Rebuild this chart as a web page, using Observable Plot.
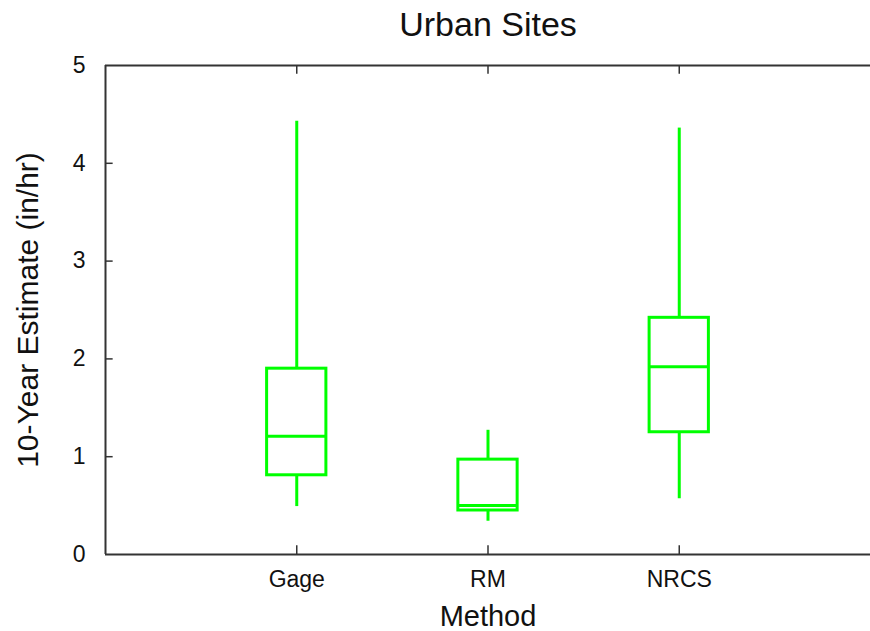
<!DOCTYPE html>
<html>
<head>
<meta charset="utf-8">
<script src="https://cdn.jsdelivr.net/npm/d3@7"></script>
<script src="https://cdn.jsdelivr.net/npm/@observablehq/plot@0.6"></script>
<style>
  html, body { margin: 0; padding: 0; background: #fff; }
  #chart svg { display: block; }
</style>
</head>
<body>
<div id="chart"></div>
<script>
const methods = ["Gage", "RM", "NRCS"];
const positions = [1, 2, 3];
const whiskerLow = [0.49, 0.34, 0.57];
const q1 = [0.81, 0.45, 1.25];
const median = [1.21, 0.50, 1.92];
const q3 = [1.90, 0.97, 2.42];
const whiskerHigh = [4.43, 1.27, 4.36];
const yTicks = [0, 1, 2, 3, 4, 5];

const halfW = 0.155;
const data = methods.map((m, i) => ({
  method: m, pos: positions[i],
  lo: whiskerLow[i], q1: q1[i], med: median[i], q3: q3[i], hi: whiskerHigh[i]
}));

const green = "#00ff00";
const axisColor = "#333";
const textColor = "#111";
const font = "'Liberation Sans', Arial, sans-serif";

const chart = Plot.plot({
  width: 870,
  height: 631,
  marginLeft: 105,
  marginRight: 0,
  marginTop: 65,
  marginBottom: 77,
  style: { fontFamily: font, background: "#fff" },
  x: { type: "linear", domain: [0, 4], axis: null },
  y: { type: "linear", domain: [0, 5], axis: null },
  marks: [
    // frame lines
    Plot.ruleY([0, 5], { stroke: axisColor, strokeWidth: 2 }),
    Plot.ruleX([0], { stroke: axisColor, strokeWidth: 2 }),
    // y axis ticks & labels
    Plot.ruleY(yTicks.slice(1, 5), { x1: 0, x2: 0.04, stroke: axisColor, strokeWidth: 1.5 }),
    Plot.text(yTicks, { y: d => d, frameAnchor: "left", dx: -20, textAnchor: "end", lineAnchor: "middle", text: d => String(d), fontSize: 23, fill: textColor }),
    // x axis ticks & labels
    Plot.ruleX(positions, { y1: 0, y2: 0.09, stroke: axisColor, strokeWidth: 1.5 }),
    Plot.ruleX(positions, { y1: 5, y2: 4.91, stroke: axisColor, strokeWidth: 1.5 }),
    Plot.text(positions, { x: d => d, frameAnchor: "bottom", dy: 25, lineAnchor: "middle", text: (d, i) => methods[i], fontSize: 23, fill: textColor }),
    // whiskers
    Plot.ruleX(data, { x: "pos", y1: "q3", y2: "hi", stroke: green, strokeWidth: 3 }),
    Plot.ruleX(data, { x: "pos", y1: "lo", y2: "q1", stroke: green, strokeWidth: 3 }),
    // boxes
    Plot.rect(data, { x1: d => d.pos - halfW, x2: d => d.pos + halfW, y1: "q1", y2: "q3", fill: "none", stroke: green, strokeWidth: 3 }),
    // medians
    Plot.ruleY(data, { y: "med", x1: d => d.pos - halfW, x2: d => d.pos + halfW, stroke: green, strokeWidth: 3 }),
    // titles
    Plot.text(["Urban Sites"], { frameAnchor: "top", dy: -40, lineAnchor: "middle", fontSize: 34, fill: textColor }),
    Plot.text(["Method"], { frameAnchor: "bottom", dy: 62, lineAnchor: "middle", fontSize: 29, fill: textColor }),
    Plot.text(["10-Year Estimate (in/hr)"], { frameAnchor: "left", dx: -77, rotate: -90, textAnchor: "middle", lineAnchor: "middle", fontSize: 30, fill: textColor })
  ]
});
document.getElementById("chart").appendChild(chart);
</script>
</body>
</html>
